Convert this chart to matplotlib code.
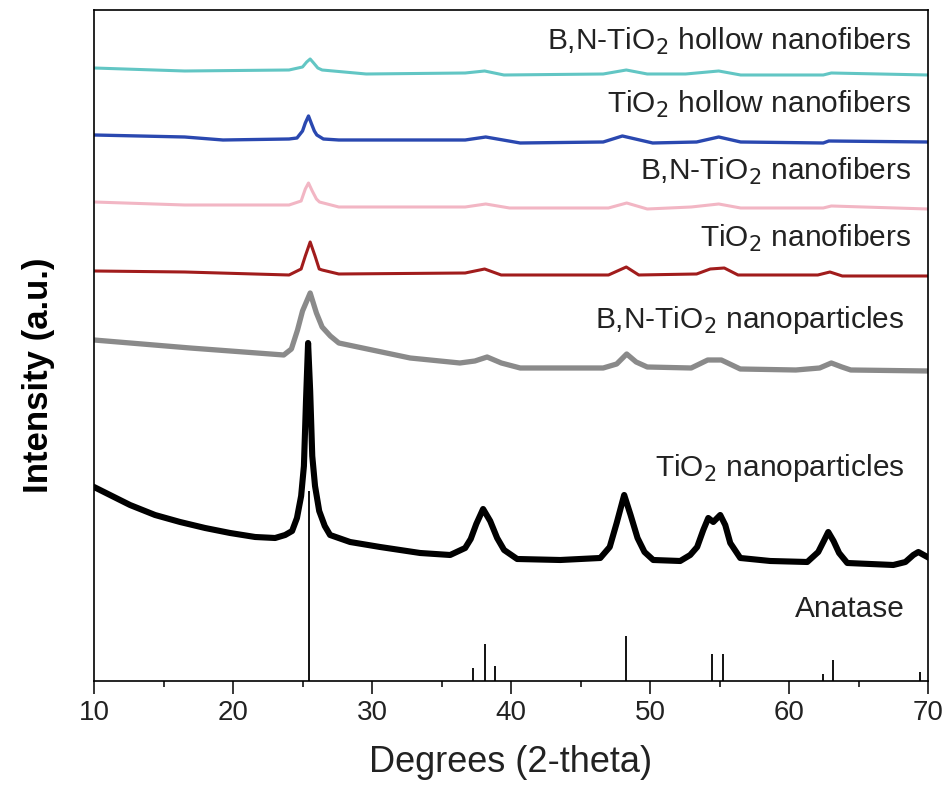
"""
XRD patterns of TiO2 and B,N-TiO2 samples with the anatase reference sticks.
"""

import matplotlib
matplotlib.use("Agg")
import matplotlib.pyplot as plt

plt.rcParams['font.family'] = ['Liberation Sans', 'DejaVu Sans']

# curves are already stacked (offset) as in the original figure
tio2_np_x = [10.0, 11.15, 12.59, 14.39, 16.19, 17.99, 19.79, 21.59, 23.03, 23.75,
             24.25, 24.6, 24.9, 25.1, 25.25, 25.4, 25.55, 25.7, 25.9, 26.2,
             26.6, 26.98, 28.42, 30.58, 33.46, 35.62, 36.70, 37.1, 37.5, 37.99,
             38.50, 39.0, 39.5, 40.44, 43.54, 46.42, 47.1, 47.6, 48.14, 48.6,
             49.1, 49.6, 50.23, 52.17, 52.89, 53.39, 53.83, 54.19, 54.55, 55.05,
             55.41, 55.77, 56.49, 58.65, 61.31, 62.10, 62.5, 62.82, 63.2, 63.6,
             64.19, 67.50, 68.37, 68.94, 69.30, 69.95]
tio2_np_y = [194, 186, 176, 166, 159, 153, 148, 144, 143, 146,
             150, 163, 185, 215, 280, 338, 290, 225, 195, 170,
             155, 146, 139, 134, 128, 126, 133, 142, 157, 172,
             160, 143, 131, 122, 121, 123, 134, 158, 186, 166,
             143, 129, 121, 120, 126, 134, 151, 163, 159, 166,
             156, 138, 123, 120, 119, 129, 140, 149, 140, 128,
             118, 116, 119, 126, 129, 124]

bn_np_x = [10.0, 16.91, 23.65, 24.2, 24.64, 25.0, 25.55, 26.0, 26.41, 27.0,
           27.61, 32.74, 36.32, 37.4, 38.28, 39.3, 40.66, 46.63, 47.6, 48.32,
           49.0, 49.80, 52.96, 54.15, 55.13, 56.49, 60.49, 62.2, 63.04, 63.8,
           64.44, 70.0]
bn_np_y = [341, 333, 326, 332, 351, 370, 388, 368, 354, 345,
           338, 323, 318, 320, 324, 318, 313, 313, 317, 327,
           319, 314, 313, 321, 321, 312, 311, 313, 318, 314,
           311, 310]

tio2_nf_x = [10.0, 16.52, 24.03, 24.9, 25.2, 25.55, 25.9, 26.2, 26.41, 27.61,
             36.70, 38.10, 39.29, 47.01, 48.29, 49.19, 53.35, 54.33, 55.34, 56.33,
             62.07, 62.94, 63.83, 70.0]
tio2_nf_y = [410, 409, 406, 412, 425, 439, 425, 412, 411, 407,
             408, 412, 406, 406, 414, 406, 407, 412, 413, 406,
             406, 409, 405, 405]

bn_nf_x = [10.0, 16.52, 24.03, 24.9, 25.2, 25.43, 25.7, 26.0, 26.22, 27.61,
           36.70, 38.18, 39.89, 47.01, 48.32, 49.80, 52.96, 54.94, 56.52, 62.46,
           63.04, 70.0]
bn_nf_y = [479, 476, 476, 480, 492, 498, 490, 482, 479, 474,
           474, 477, 473, 473, 478, 472, 474, 477, 473, 473,
           475, 472]

tio2_hnf_x = [10.0, 16.52, 19.28, 24.03, 24.6, 25.0, 25.2, 25.43, 25.65, 25.85,
              26.03, 26.5, 27.61, 36.70, 38.18, 40.66, 46.63, 48.01, 50.19, 53.35,
              54.94, 56.52, 62.46, 62.86, 70.0]
tio2_hnf_y = [546, 544, 541, 542, 543, 550, 558, 565, 557, 550,
              546, 542, 541, 541, 544, 538, 539, 545, 538, 539,
              544, 539, 538, 540, 539]

bn_hnf_x = [10.0, 16.52, 24.03, 25.0, 25.3, 25.55, 25.8, 26.1, 26.41, 29.58,
            36.70, 38.10, 39.49, 46.63, 48.29, 49.80, 52.56, 54.94, 56.52, 62.46,
            63.04, 70.0]
bn_hnf_y = [613, 610, 611, 614, 619, 622, 618, 613, 611, 607,
            608, 610, 606, 607, 611, 607, 607, 610, 606, 606,
            608, 606]

# anatase reference pattern
anatase_pos = [25.45, 37.29, 38.15, 38.87, 48.27, 54.44, 55.27, 62.42, 63.14, 69.42]
anatase_h = [190, 13, 37, 15, 45, 27, 27, 7, 21, 9]

labels = ['B,N-TiO$_2$ hollow nanofibers', 'TiO$_2$ hollow nanofibers',
          'B,N-TiO$_2$ nanofibers', 'TiO$_2$ nanofibers',
          'B,N-TiO$_2$ nanoparticles', 'TiO$_2$ nanoparticles', 'Anatase']
label_y = [631, 568, 501, 434, 353, 205, 64]
label_x = [68.8, 68.8, 68.8, 68.8, 68.3, 68.3, 68.3]


def main():
    fig = plt.figure(figsize=(9.42, 7.87), dpi=100)
    ax = fig.add_axes([0.0998, 0.1347, 0.8854, 0.8526])

    ax.plot(tio2_np_x, tio2_np_y, color='black', lw=4.4)
    ax.plot(bn_np_x, bn_np_y, color='#8a8a8a', lw=3.8)
    ax.plot(tio2_nf_x, tio2_nf_y, color='#a11c1c', lw=2.2)
    ax.plot(bn_nf_x, bn_nf_y, color='#f2b6c4', lw=2.2)
    ax.plot(tio2_hnf_x, tio2_hnf_y, color='#2a48b0', lw=2.4)
    ax.plot(bn_hnf_x, bn_hnf_y, color='#62c6c4', lw=2.2)
    ax.vlines(anatase_pos, 0, anatase_h, color='black', lw=1.3)

    for txt, x, y in zip(labels, label_x, label_y):
        ax.text(x, y, txt, ha='right', va='baseline', fontsize=21.5, color='#222222')

    ax.set_xlim(10, 70)
    ax.set_ylim(0, 671)
    ax.set_xticks(range(10, 71, 10))
    ax.set_xticks(range(15, 70, 10), minor=True)
    ax.set_yticks([])
    ax.tick_params(axis='x', which='major', direction='out', length=9.5, width=1.1,
                   labelsize=20, pad=4, labelcolor='#222222')
    ax.tick_params(axis='x', which='minor', direction='out', length=4.5, width=1.1)
    for s in ax.spines.values():
        s.set_linewidth(1.2)

    ax.set_xlabel('Degrees (2-theta)', fontsize=26, color='#222222', labelpad=14)
    ax.set_ylabel('Intensity (a.u.)', fontsize=25, fontweight='bold')
    ax.yaxis.set_label_coords(-0.047, 0.456)

    fig.savefig('out.png', dpi=100)
    plt.close(fig)


if __name__ == "__main__":
    main()
